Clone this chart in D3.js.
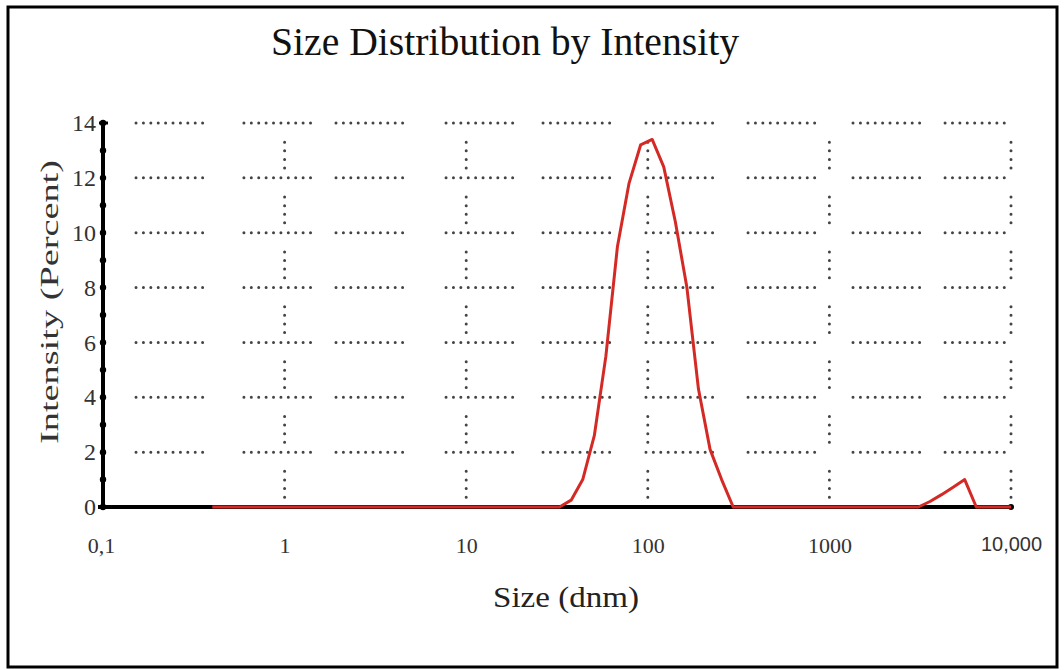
<!DOCTYPE html>
<html>
<head>
<meta charset="utf-8">
<script src="https://cdn.jsdelivr.net/npm/d3@7"></script>
<style>
  html, body { margin: 0; padding: 0; background: #fff; }
  svg { display: block; }
</style>
</head>
<body>
<svg id="chart" width="1064" height="670"></svg>
<script>
// ---------- data ----------
const sizes = [0.4, 0.4632, 0.5365, 0.6213, 0.7195, 0.8332, 0.9649, 1.117, 1.294, 1.499,
  1.736, 2.010, 2.328, 2.696, 3.122, 3.615, 4.187, 4.849, 5.615, 6.503,
  7.531, 8.721, 10.10, 11.70, 13.54, 15.69, 18.17, 21.04, 24.36, 28.21,
  32.67, 37.84, 43.82, 50.75, 58.77, 68.06, 78.82, 91.28, 105.7, 122.4,
  141.8, 164.2, 190.1, 220.2, 255.0, 295.3, 342.0, 396.1, 458.7, 531.2,
  615.1, 712.4, 825.0, 955.4, 1106, 1281, 1484, 1718, 1990, 2305,
  2669, 3091, 3580, 4145, 4801, 5560, 6439, 7456, 8635, 10000];
const intensity = [0, 0, 0, 0, 0, 0, 0, 0, 0, 0,
  0, 0, 0, 0, 0, 0, 0, 0, 0, 0,
  0, 0, 0, 0, 0, 0, 0, 0, 0, 0,
  0, 0.25, 1.0, 2.6, 5.5, 9.5, 11.8, 13.2, 13.4, 12.4,
  10.4, 8.0, 4.3, 2.1, 1.0, 0, 0, 0, 0, 0,
  0, 0, 0, 0, 0, 0, 0, 0, 0, 0,
  0, 0, 0.2, 0.45, 0.72, 1.0, 0, 0, 0, 0];
const xTickValues = [0.1, 1, 10, 100, 1000, 10000];
const xTickLabels = ["0,1", "1", "10", "100", "1000", "10,000"];
const yTickValues = [0, 2, 4, 6, 8, 10, 12, 14];
const yMinorTicks = [0, 1, 2, 3, 4, 5, 6, 7, 8, 9, 10, 11, 12, 13, 14];
const gridDecades = [1, 10, 100, 1000, 10000];
// horizontal dotted grid segments, as [start, end] in size units (nm)
const gridSegments = [[0.152, 0.356], [0.597, 1.416], [1.919, 4.487], [7.745, 18.11],
  [26.49, 63.53], [97.7, 228.6], [356.5, 833.7], [1349, 3192], [4335, 10000]];
const chartTitle = "Size Distribution by Intensity";
const xTitle = "Size (dnm)";
const yTitle = "Intensity (Percent)";

// ---------- layout ----------
const svg = d3.select("#chart");
const x = d3.scaleLog().domain([0.1, 10000]).range([103, 1011]);
const y = d3.scaleLinear().domain([0, 14]).range([507, 123]);
const serif = "'Liberation Serif', 'DejaVu Serif', serif";

// outer frame
svg.append("rect").attr("x", 8).attr("y", 7).attr("width", 1049).attr("height", 660)
  .attr("fill", "none").attr("stroke", "#000").attr("stroke-width", 3);

// title
svg.append("text").attr("x", 505).attr("y", 55).attr("text-anchor", "middle")
  .attr("font-family", serif).attr("font-size", 40).attr("fill", "#111")
  .attr("textLength", 468).attr("lengthAdjust", "spacingAndGlyphs")
  .text(chartTitle);

// horizontal dotted grid
const gridG = svg.append("g");
yTickValues.filter(v => v > 0).forEach(v => {
  gridSegments.forEach(s => {
    gridG.append("line")
      .attr("x1", x(s[0])).attr("x2", x(s[1]))
      .attr("y1", y(v)).attr("y2", y(v))
      .attr("stroke", "#444").attr("stroke-width", 3)
      .attr("stroke-linecap", "round").attr("stroke-dasharray", "0,7.4");
  });
});
// vertical dotted grid
gridDecades.forEach(d => {
  yTickValues.filter(v => v > 0).forEach(v => {
    gridG.append("line")
      .attr("x1", x(d)).attr("x2", x(d))
      .attr("y1", y(v - 0.7)).attr("y2", y(v - 1.72))
      .attr("stroke", "#444").attr("stroke-width", 3)
      .attr("stroke-linecap", "round").attr("stroke-dasharray", "0,8.6");
  });
});

// x baseline (black)
svg.append("line").attr("x1", x(0.1) - 5).attr("x2", x(10000))
  .attr("y1", y(0)).attr("y2", y(0))
  .attr("stroke", "#000").attr("stroke-width", 4);
svg.append("circle").attr("cx", x(10000)).attr("cy", y(0)).attr("r", 3).attr("fill", "#000");

// data line
const line = d3.line().x((d, i) => x(sizes[i])).y(d => y(d));
svg.append("path").datum(intensity)
  .attr("d", line).attr("fill", "none")
  .attr("stroke", "#d42a25").attr("stroke-width", 3)
  .attr("stroke-linejoin", "round");

// y axis
const yAxisG = svg.append("g").attr("transform", `translate(${x(0.1)},0)`);
yAxisG.call(d3.axisLeft(y).tickValues(yTickValues).tickSize(0).tickPadding(7));
yAxisG.select(".domain").remove();
yAxisG.attr("font-size", 24).attr("font-family", serif);
yAxisG.selectAll("text").style("font-size", "24px").style("font-family", serif).attr("fill", "#333");
yAxisG.append("line").attr("x1", 0).attr("x2", 0).attr("y1", y(14)).attr("y2", y(0))
  .attr("stroke", "#000").attr("stroke-width", 4);
yAxisG.append("line").attr("x1", -4).attr("x2", 5).attr("y1", y(14)).attr("y2", y(14))
  .attr("stroke", "#000").attr("stroke-width", 3);
yAxisG.selectAll("circle.minor").data(yMinorTicks).enter().append("circle")
  .attr("class", "minor").attr("cx", 0).attr("cy", d => y(d)).attr("r", 3.2).attr("fill", "#000");

// x axis labels
const xAxisG = svg.append("g").attr("transform", `translate(0,${y(0)})`);
xAxisG.call(d3.axisBottom(x).tickValues(xTickValues).tickSize(0).tickPadding(30)
  .tickFormat((d, i) => xTickLabels[i]));
xAxisG.select(".domain").remove();
xAxisG.attr("font-size", 22).attr("font-family", serif);
xAxisG.selectAll("text").style("font-size", "22px").style("font-family", serif).attr("fill", "#333");
xAxisG.selectAll("text").filter((d, i) => i === xTickLabels.length - 1)
  .style("font-family", "'Liberation Sans', Arial, sans-serif").style("font-size", "20px");
xAxisG.selectAll("text").filter((d, i) => i === 0).attr("dx", -2);

// axis titles
svg.append("text").attr("x", 566).attr("y", 607).attr("text-anchor", "middle")
  .attr("font-family", serif).attr("font-size", 29).attr("fill", "#222")
  .attr("textLength", 146).attr("lengthAdjust", "spacingAndGlyphs")
  .text(xTitle);
svg.append("text").attr("transform", "translate(58,302) rotate(-90)")
  .attr("text-anchor", "middle")
  .attr("font-family", serif).attr("font-size", 26).attr("fill", "#333")
  .attr("textLength", 284).attr("lengthAdjust", "spacingAndGlyphs")
  .text(yTitle);
</script>
</body>
</html>
